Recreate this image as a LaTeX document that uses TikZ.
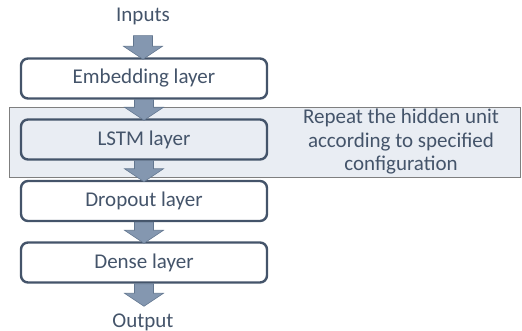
\documentclass[tikz,border=0pt]{standalone}
\usepackage{fontspec}
\setmainfont{Carlito}
\usetikzlibrary{calc}
\definecolor{boxline}{HTML}{44546A}
\definecolor{labeltext}{HTML}{44546A}
\definecolor{arrowfill}{HTML}{8497B0}
\definecolor{arrowline}{HTML}{62768F}
\definecolor{bandfill}{HTML}{E9EDF3}
\definecolor{bandline}{HTML}{7F7F7F}
\tikzset{every node/.style={font=\fontsize{21}{23.5}\selectfont,text=labeltext},
  layer/.style={draw=boxline,line width=2.4pt,rounded corners=7pt,minimum width=246pt,minimum height=40pt,inner sep=0pt},
  band/.style={draw=bandline,fill=bandfill,line width=0.8pt,minimum width=511pt,minimum height=70pt,inner sep=0pt},
  plain/.style={inner sep=0pt},
  fatarrow/.style={fill=arrowfill,draw=arrowline,line width=0.6pt,
    to path={let \p1=(\tikztostart),\p2=(\tikztotarget) in
      (\x1-9.5pt,\y1) -- (\x1+9.5pt,\y1) -- (\x1+9.5pt,\y2+13pt) -- (\x1+19.5pt,\y2+13pt)
      -- (\x1,\y2) -- (\x1-19.5pt,\y2+13pt) -- (\x1-9.5pt,\y2+13pt) -- cycle}}}

\begin{document}
\begin{tikzpicture}[x=1pt,y=-1pt]
      \useasboundingbox (0,0) rectangle (522,331);
      \node[band] (band) at (264.5,142) {};

      \node[plain] (inputs) at (143,16) {Inputs};
      \node[layer,fill=white] (embed) at (144,78.5) {Embedding layer};
      \node[layer] (lstm) at (144,139.5) {LSTM layer};
      \node[layer,fill=white] (dropout) at (144,201) {Dropout layer};
      \node[layer,fill=white] (dense) at (144,262.5) {Dense layer};
      \node[plain] (output) at (143,322) {Output};
      \node[plain,align=center] (note) at (401,142) {Repeat the hidden unit\\according to specified\\configuration};

      \draw[fatarrow] ([yshift=-11pt]inputs.south) to ([yshift=-2pt]embed.north);
      \draw[fatarrow] (embed.south) to ([yshift=-2pt]lstm.north);
      \draw[fatarrow] (lstm.south) to ([yshift=-2pt]dropout.north);
      \draw[fatarrow] (dropout.south) to ([yshift=-2pt]dense.north);
      \draw[fatarrow] (dense.south) to ([yshift=7pt]output.north);
    \end{tikzpicture}
\end{document}
